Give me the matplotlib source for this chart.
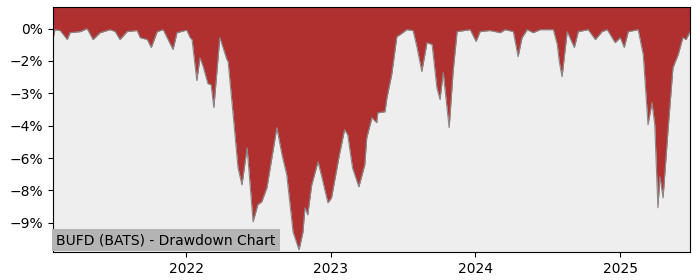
import matplotlib
matplotlib.use('Agg')
import matplotlib.pyplot as plt
import matplotlib.dates as mdates
from matplotlib.ticker import MultipleLocator, FuncFormatter
import pandas as pd

# drawdown (%)
dates = [
    '2021-01-30', '2021-02-04', '2021-02-17', '2021-03-07', '2021-03-14', '2021-04-09',
    '2021-04-26', '2021-05-11', '2021-05-29', '2021-06-23', '2021-07-06', '2021-07-18',
    '2021-08-05', '2021-08-30', '2021-09-07', '2021-09-25', '2021-10-05', '2021-10-20',
    '2021-11-04', '2021-11-29', '2021-12-09', '2021-12-29',
    '2022-01-03', '2022-01-11', '2022-01-16', '2022-01-28', '2022-02-05', '2022-02-13',
    '2022-02-25', '2022-03-05', '2022-03-12', '2022-03-27', '2022-04-14', '2022-04-17',
    '2022-04-29', '2022-05-12', '2022-05-22', '2022-06-04', '2022-06-19', '2022-07-01',
    '2022-07-11', '2022-07-24', '2022-08-18', '2022-08-31', '2022-09-12', '2022-09-28',
    '2022-10-13', '2022-10-23', '2022-10-28', '2022-11-04', '2022-11-14', '2022-11-30',
    '2022-12-10', '2022-12-25',
    '2023-01-03', '2023-01-23', '2023-02-05', '2023-02-13', '2023-02-25', '2023-03-13',
    '2023-03-28', '2023-04-02', '2023-04-15', '2023-04-27', '2023-04-30', '2023-05-18',
    '2023-05-23', '2023-06-04', '2023-06-17', '2023-06-25', '2023-07-12', '2023-07-28',
    '2023-08-07', '2023-08-19', '2023-09-01', '2023-09-14', '2023-09-26', '2023-10-04',
    '2023-10-12', '2023-10-27', '2023-11-06', '2023-11-16', '2023-12-19',
    '2024-01-03', '2024-01-13', '2024-02-07', '2024-03-04', '2024-03-16', '2024-04-06',
    '2024-04-18', '2024-04-28', '2024-05-11', '2024-05-26', '2024-06-13', '2024-07-16',
    '2024-07-26', '2024-07-31', '2024-08-07', '2024-08-20', '2024-09-07', '2024-09-17',
    '2024-10-12', '2024-10-30', '2024-11-16', '2024-11-29', '2024-12-19',
    '2025-01-01', '2025-01-11', '2025-01-21', '2025-02-15', '2025-02-28', '2025-03-12',
    '2025-03-22', '2025-03-29', '2025-04-06', '2025-04-11', '2025-04-19', '2025-05-02',
    '2025-05-14', '2025-05-27', '2025-06-08', '2025-06-16', '2025-06-26',
]
drawdown = [
    -0.46, -0.05, -0.09, -0.51, -0.19, -0.14,
    0.00, -0.51, -0.19, -0.05, -0.14, -0.51,
    -0.14, -0.09, -0.42, -0.51, -0.88, -0.14,
    -0.05, -0.97, -0.19, -0.09,
    -0.09, -0.42, -0.51, -2.41, -1.35, -1.76,
    -2.55, -2.60, -3.66, -0.42, -1.44, -1.53,
    -3.85, -6.45, -7.24, -5.52, -8.95, -8.16,
    -8.02, -7.37, -4.59, -5.84, -6.77, -9.42,
    -10.25, -9.42, -8.30, -8.63, -7.24, -6.17,
    -6.91, -8.07,
    -7.84, -5.84, -4.68, -4.92, -6.45, -7.33,
    -6.31, -5.06, -4.13, -4.36, -3.90, -3.85,
    -3.20, -2.13, -0.37, -0.28, -0.05, -0.09,
    -0.88, -1.99, -0.65, -0.74, -2.74, -3.29,
    -2.04, -4.59, -1.99, -0.14, -0.05,
    -0.60, -0.14, -0.09, -0.19, -0.05, -0.14,
    -1.30, -0.42, -0.05, -0.19, -0.05, -0.05,
    -0.74, -1.53, -2.23, -0.14, -0.88, -0.14,
    -0.05, -0.51, -0.14, -0.05, -0.65,
    -0.42, -0.88, -0.14, -0.05, -1.21, -4.45,
    -3.43, -4.45, -8.30, -6.86, -7.84, -4.59,
    -1.81, -1.21, -0.42, -0.51, -0.14,
]
title = 'BUFD (BATS) - Drawdown Chart'

x = pd.to_datetime(dates)
top = 1.0

fig = plt.figure(figsize=(7, 2.8), dpi=100)
ax = fig.add_axes([0.0757, 0.1, 0.91, 0.875])
ax.set_facecolor('#eeeeee')
ax.fill_between(x, drawdown, top, color='#b03030', linewidth=0)
ax.plot(x, drawdown, color='#888888', linewidth=0.8)

ax.set_ylim(-10.35, top)
ax.set_xlim(x[0], x[-1])
ax.yaxis.set_major_locator(MultipleLocator(1.5))
ax.yaxis.set_major_formatter(FuncFormatter(
    lambda v, p: '0%' if abs(v) < 1e-9 else f'{v:.0f}%'.replace('-', '\u2212')))
ax.xaxis.set_major_locator(mdates.YearLocator())
ax.xaxis.set_major_formatter(mdates.DateFormatter('%Y'))
ax.tick_params(labelsize=10)

ax.text(0.005, 0.02, title, transform=ax.transAxes, fontsize=10,
        ha='left', va='bottom',
        bbox=dict(facecolor='#b4b4b4', edgecolor='none', pad=3))

fig.savefig('out.png', dpi=100)
